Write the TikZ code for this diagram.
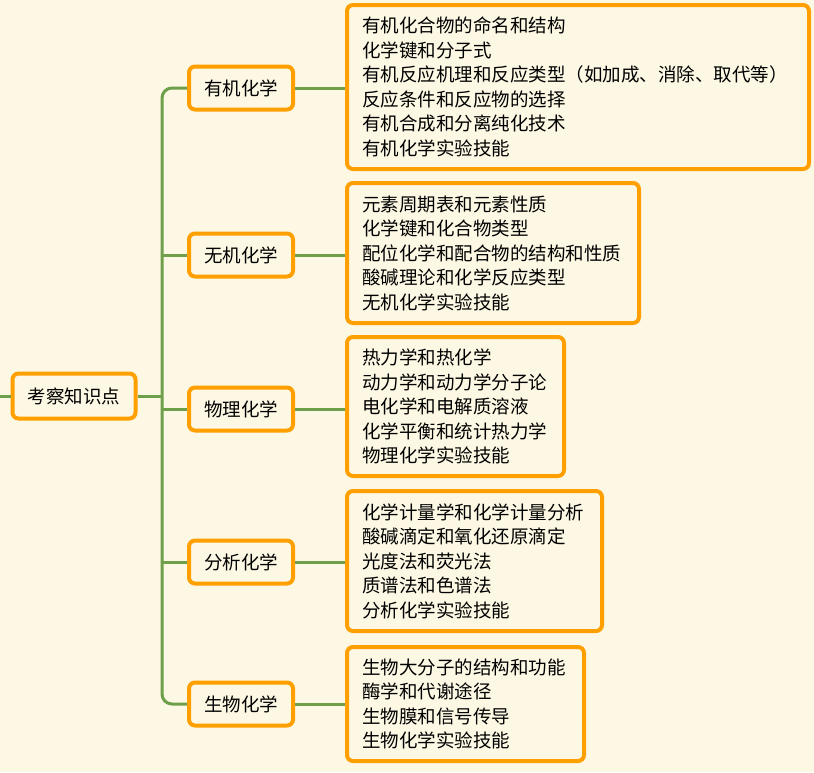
\documentclass[tikz,border=0pt]{standalone}
\usepackage{fontspec}
\setmainfont{Noto Sans CJK SC}
\definecolor{bg}{RGB}{253,248,228}
\definecolor{org}{RGB}{255,160,0}
\definecolor{grn}{RGB}{110,160,75}
\begin{document}
\begin{tikzpicture}[x=1pt,y=-1pt,
  box/.style={draw=org,line width=4pt,rounded corners=6pt,fill=bg,font=\fontsize{18.5}{24.5}\selectfont,inner sep=0pt},
  leaf/.style={box,align=left,anchor=west,inner xsep=15pt},
  con/.style={draw=grn,line width=3pt}]
\fill[bg] (0,0) rectangle (814,772);
\useasboundingbox (0,0) rectangle (814,772);
\coordinate (L) at (0,396);
\node[box,minimum width=123,minimum height=45] (root) at (74,396) {考察知识点};
\node[box,minimum width=104,minimum height=43] (b1) at (241,88) {有机化学};
\node[box,minimum width=104,minimum height=43] (b2) at (241,255) {无机化学};
\node[box,minimum width=104,minimum height=43] (b3) at (241,409) {物理化学};
\node[box,minimum width=104,minimum height=43] (b4) at (241,562) {分析化学};
\node[box,minimum width=104,minimum height=43] (b5) at (241,704) {生物化学};
\node[leaf,minimum height=164,text width=432] (l1) at (345,87) {有机化合物的命名和结构\\化学键和分子式\\有机反应机理和反应类型（如加成、消除、取代等）\\反应条件和反应物的选择\\有机合成和分离纯化技术\\有机化学实验技能};
\node[leaf,minimum height=140,text width=262] (l2) at (345,253) {元素周期表和元素性质\\化学键和化合物类型\\配位化学和配合物的结构和性质\\酸碱理论和化学反应类型\\无机化学实验技能};
\node[leaf,minimum height=139,text width=187] (l3) at (345,406.5) {热力学和热化学\\动力学和动力学分子论\\电化学和电解质溶液\\化学平衡和统计热力学\\物理化学实验技能};
\node[leaf,minimum height=140,text width=225] (l4) at (345,561) {化学计量学和化学计量分析\\酸碱滴定和氧化还原滴定\\光度法和荧光法\\质谱法和色谱法\\分析化学实验技能};
\node[leaf,minimum height=114,text width=207] (l5) at (345,704) {生物大分子的结构和功能\\酶学和代谢途径\\生物膜和信号传导\\生物化学实验技能};
\coordinate (t1) at (162,88);
\coordinate (t5) at (162,704);
\coordinate (tr) at (162,396);
\draw[con] (L) -- (root.west);
\draw[con] (root.east) -- (tr);
\draw[con,rounded corners=10pt] (b1.west) -- (t1) -- (t5) -- (b5.west);
\draw[con] (b2.west -| t1) -- (b2.west);
\draw[con] (b3.west -| t1) -- (b3.west);
\draw[con] (b4.west -| t1) -- (b4.west);
\foreach \i in {1,...,5} \draw[con] (b\i.east) -- (b\i.east -| l\i.west);
\end{tikzpicture}
\end{document}
